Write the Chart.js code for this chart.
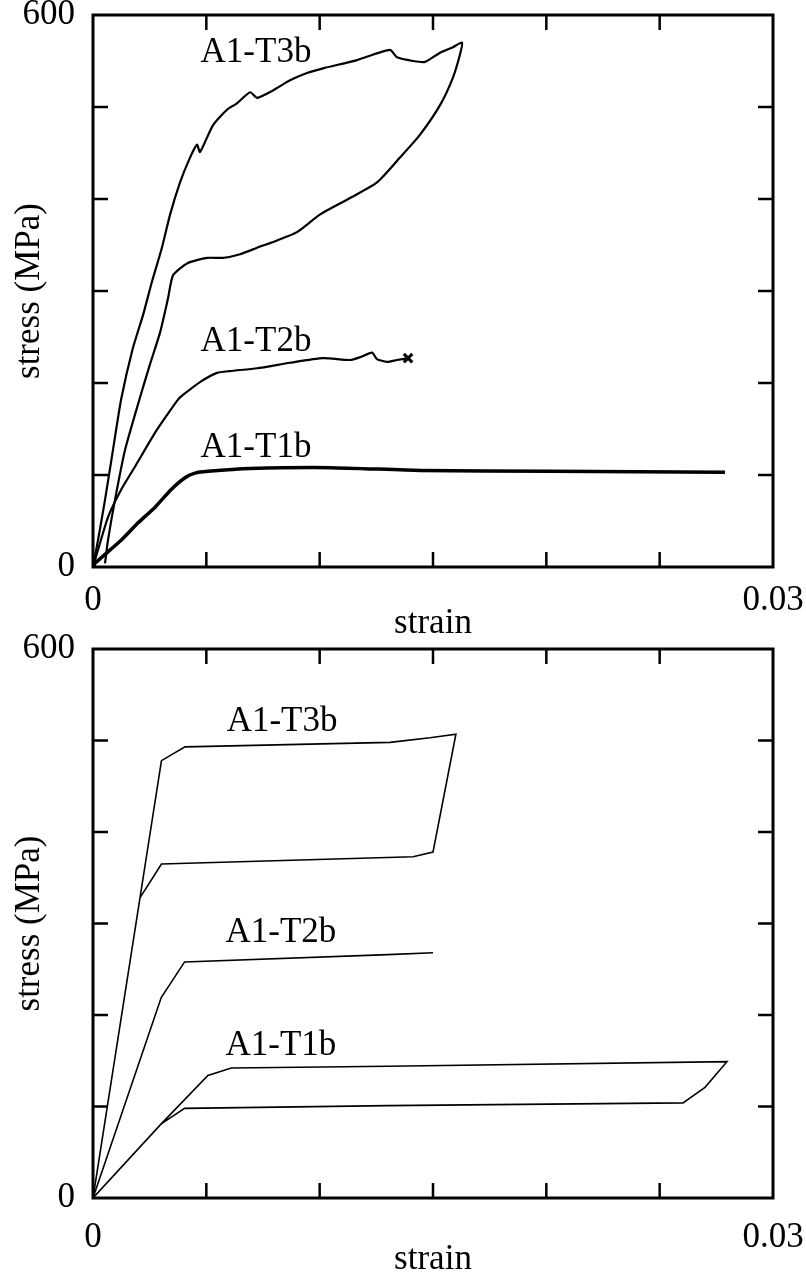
<!DOCTYPE html>
<html>
<head>
<meta charset="utf-8">
<script src="https://cdn.jsdelivr.net/npm/chart.js@4"></script>
<style>
  html, body { margin: 0; padding: 0; background: #fff; overflow: hidden; }
  canvas { position: absolute; left: 0; }
  #top { top: 0; }
  #bottom { top: 629px; }
</style>
</head>
<body>
<canvas id="top" width="806" height="645"></canvas>
<canvas id="bottom" width="806" height="645"></canvas>
<script>
// measured curves (strain, stress MPa)
const t3bStrain = [0, 0.00022, 0.00053, 0.00088, 0.00124, 0.00176, 0.00221, 0.00260, 0.00304, 0.00340, 0.00384, 0.00428, 0.00459, 0.00472, 0.00529, 0.00591, 0.00635, 0.00693, 0.00724, 0.00794, 0.00869, 0.00944, 0.01015, 0.01165, 0.01310, 0.01341, 0.01412, 0.01465, 0.01531, 0.01588, 0.01628,
  0.01619, 0.01588, 0.01531, 0.01443, 0.01354, 0.01253, 0.01134, 0.01001, 0.00900, 0.00812, 0.00724, 0.00649, 0.00574, 0.00503, 0.00415, 0.00353, 0.00331, 0.00296, 0.00251, 0.00207, 0.00141, 0.00097, 0.00066, 0.00053]
const t3bStress = [0, 29, 73, 127, 182, 238, 274, 310, 347, 383, 418, 445, 459, 451, 480, 497, 504, 516, 510, 518, 529, 537, 542, 551, 562, 554, 550, 549, 559, 565, 570,
  557, 532, 502, 470, 445, 418, 401, 383, 364, 355, 347, 340, 336, 336, 330, 317, 292, 255, 220, 184, 127, 73, 29, 4]

const t2bStrain = [0, 0.00066, 0.00124, 0.00185, 0.00274, 0.00326, 0.00375, 0.00397, 0.00472, 0.00547, 0.00604, 0.00724, 0.00869, 0.01015, 0.01134, 0.01178, 0.01231, 0.01253, 0.01297, 0.01341, 0.01390]
const t2bStress = [0, 54, 84, 109, 146, 165, 182, 187, 201, 211, 213, 216, 222, 227, 225, 228, 233, 226, 223, 225, 227]

const t1bStrain = [0, 0.00009, 0.00124, 0.00199, 0.00274, 0.00344, 0.00406, 0.00450, 0.00507, 0.00693, 0.01046, 0.01443, 0.02016, 0.02788]
const t1bStress = [0, 4, 29, 48, 65, 84, 97, 102, 104, 107, 108, 105, 104, 103]

// model curves (lower panel)
const m3bStrain = [0, 0.00302, 0.00406, 0.01310, 0.01487, 0.01601, 0.01500, 0.01412, 0.00302, 0.00207]
const m3bStress = [0, 478, 493, 498, 503, 507, 378, 373, 365, 328]

const m2bStrain = [0, 0.00301, 0.00404, 0.01301, 0.0150]
const m2bStress = [0, 219, 258, 266, 268]

const m1bStrain = [0, 0.00301, 0.00507, 0.0061, 0.01301, 0.02797, 0.027, 0.02603, 0.01301, 0.00404, 0.00301]
const m1bStress = [0, 81, 134, 142, 144, 149, 121, 104, 101, 98, 81]

const strainTicks = ['0', '0.03']
const stressTicks = ['0', '600']

const labelsTop = [['A1-T3b', 0.00719, 559], ['A1-T2b', 0.00719, 245], ['A1-T1b', 0.00719, 130]]
const labelsBottom = [['A1-T3b', 0.00834, 520], ['A1-T2b', 0.00829, 290], ['A1-T1b', 0.00829, 166]]

const FONT = 'Liberation Serif'
Chart.defaults.font.family = FONT
Chart.defaults.color = '#000'

function pts(xs, ys){
    return xs.map((v, i) => ({x: v, y: ys[i]}))
}

// box frame, inward ticks on all four sides, curve labels
const frameTicks = {
    id: 'frameTicks',
    afterDatasetsDraw(chart, args, opts){
        const ctx = chart.ctx
        const a = chart.chartArea
        const x = chart.scales.x, y = chart.scales.y
        ctx.save()
        ctx.strokeStyle = '#000'
        ctx.lineWidth = 2.5
        ctx.beginPath()
        x.ticks.forEach(t => {
            const p = x.getPixelForValue(t.value)
            if (p <= a.left + 2 || p >= a.right - 2) return
            ctx.moveTo(p, a.bottom); ctx.lineTo(p, a.bottom - 15)
            ctx.moveTo(p, a.top); ctx.lineTo(p, a.top + 15)
        })
        y.ticks.forEach(t => {
            const p = y.getPixelForValue(t.value)
            if (p <= a.top + 2 || p >= a.bottom - 2) return
            ctx.moveTo(a.left, p); ctx.lineTo(a.left + 15, p)
            ctx.moveTo(a.right, p); ctx.lineTo(a.right - 15, p)
        })
        ctx.stroke()
        ctx.lineWidth = 3
        ctx.strokeRect(a.left, a.top, a.right - a.left, a.bottom - a.top)

        ctx.fillStyle = '#000'
        ctx.font = '35px "' + FONT + '"'
        ctx.textAlign = 'center'
        ctx.textBaseline = 'middle'
        opts.labels.forEach(l => {
            ctx.fillText(l[0], x.getPixelForValue(l[1]), y.getPixelForValue(l[2]))
        })
        ctx.restore()
    }
}

function makeChart(id, datasets, labels, cfg){
    return new Chart(document.getElementById(id), {
        type: 'scatter',
        data: {datasets},
        options: {
            responsive: false,
            animation: false,
            devicePixelRatio: 1,
            layout: {autoPadding: false, padding: {top: cfg.top, right: 33, left: 0, bottom: 0}},
            plugins: {legend: {display: false}, tooltip: {enabled: false}, frameTicks: {labels}},
            elements: {point: {radius: 0}, line: {tension: 0}},
            scales: {
                x: {
                    type: 'linear', min: 0, max: 0.03,
                    grid: {display: false, drawTicks: false},
                    border: {display: false},
                    ticks: {
                        stepSize: 0.005, autoSkip: false, maxRotation: 0, padding: cfg.xPad,
                        font: {size: 35, lineHeight: 1},
                        callback: (v, i, arr) => i === 0 ? strainTicks[0] : (i === arr.length - 1 ? strainTicks[1] : '')
                    },
                    title: {display: true, text: 'strain', font: {size: 35, lineHeight: 1}, padding: {top: 0, bottom: cfg.titlePad}},
                    afterFit(s){ s.height = cfg.xHeight; s.paddingLeft = 0; s.paddingRight = 0 }
                },
                y: {
                    type: 'linear', min: 0, max: 600,
                    grid: {display: false, drawTicks: false},
                    border: {display: false},
                    ticks: {
                        stepSize: 100, autoSkip: false, padding: 18,
                        font: {size: 35, lineHeight: 1},
                        callback: (v, i, arr) => i === 0 ? stressTicks[0] : (i === arr.length - 1 ? stressTicks[1] : '')
                    },
                    title: {display: true, text: 'stress (MPa)', font: {size: 35, lineHeight: 1}, padding: {top: 12, bottom: 0}},
                    afterFit(s){ s.width = 93; s.paddingTop = 0; s.paddingBottom = 0 }
                }
            }
        },
        plugins: [frameTicks]
    })
}

const lastT2b = t2bStrain.length - 1

makeChart('top', [
    {data: pts(t3bStrain, t3bStress), showLine: true, borderColor: '#000', borderWidth: 2.2, tension: 0.2, pointRadius: 0},
    {data: pts(t2bStrain, t2bStress), showLine: true, borderColor: '#000', borderWidth: 2.2, tension: 0.2,
        pointStyle: 'crossRot',
        pointRadius: c => c.dataIndex === lastT2b ? 6 : 0, pointBorderWidth: 3},
    {data: pts(t1bStrain, t1bStress), showLine: true, borderColor: '#000', borderWidth: 3.5, tension: 0.2, pointRadius: 0}
], labelsTop, {top: 15, xHeight: 78, xPad: 16, titlePad: 4})

makeChart('bottom', [
    {data: pts(m3bStrain, m3bStress), showLine: true, borderColor: '#000', borderWidth: 1.6, pointRadius: 0},
    {data: pts(m2bStrain, m2bStress), showLine: true, borderColor: '#000', borderWidth: 1.6, pointRadius: 0},
    {data: pts(m1bStrain, m1bStress), showLine: true, borderColor: '#000', borderWidth: 1.6, pointRadius: 0}
], labelsBottom, {top: 20, xHeight: 76, xPad: 22.5, titlePad: -3})
</script>
</body>
</html>
